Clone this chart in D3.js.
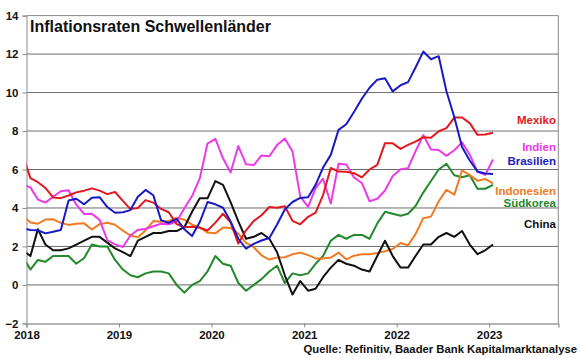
<!DOCTYPE html>
<html><head><meta charset="utf-8">
<script src="https://cdn.jsdelivr.net/npm/d3@7/dist/d3.min.js"></script>
<style>
body{margin:0;background:#fff}
svg text{font-family:"Liberation Sans",Arial,sans-serif;font-weight:bold}
</style>
</head><body>
<svg id="chart" width="580" height="359"></svg>
<script>
// Months (Dec 2017 is drawn only partly, clipped at the left axis)
const months = [
 "2017-12",
 "2018-01","2018-02","2018-03","2018-04","2018-05","2018-06","2018-07","2018-08","2018-09","2018-10","2018-11","2018-12",
 "2019-01","2019-02","2019-03","2019-04","2019-05","2019-06","2019-07","2019-08","2019-09","2019-10","2019-11","2019-12",
 "2020-01","2020-02","2020-03","2020-04","2020-05","2020-06","2020-07","2020-08","2020-09","2020-10","2020-11","2020-12",
 "2021-01","2021-02","2021-03","2021-04","2021-05","2021-06","2021-07","2021-08","2021-09","2021-10","2021-11","2021-12",
 "2022-01","2022-02","2022-03","2022-04","2022-05","2022-06","2022-07","2022-08","2022-09","2022-10","2022-11","2022-12",
 "2023-01"
];
const mexiko = [6.77,
 5.55,5.34,5.04,4.55,4.51,4.65,4.81,4.90,5.02,4.90,4.72,4.83,
 4.37,3.94,4.00,4.41,4.28,3.95,3.78,3.16,3.00,3.02,2.97,2.83,
 3.24,3.70,3.25,2.15,2.84,3.33,3.62,4.05,4.01,4.09,3.33,3.15,
 3.54,3.76,4.67,6.08,5.89,5.88,5.81,5.59,6.00,6.24,7.37,7.36,
 7.07,7.28,7.45,7.68,7.65,7.99,8.15,8.70,8.70,8.41,7.80,7.82,
 7.91];
const indien = [5.21,
 5.07,4.44,4.28,4.58,4.87,4.92,4.17,3.69,3.70,3.38,2.33,2.11,
 1.97,2.57,2.86,2.92,3.05,3.18,3.15,3.28,3.99,4.62,5.54,7.35,
 7.59,6.58,5.84,7.22,6.27,6.23,6.73,6.69,7.27,7.61,6.93,4.59,
 4.06,5.03,5.52,4.23,6.30,6.26,5.59,5.30,4.35,4.48,4.91,5.66,
 6.01,6.07,6.95,7.79,7.04,7.01,6.71,7.00,7.41,6.77,5.88,5.72,
 6.52];
const brasilien = [2.95,
 2.86,2.84,2.68,2.76,2.86,4.39,4.48,4.19,4.53,4.56,4.05,3.75,
 3.78,3.89,4.58,4.94,4.66,3.37,3.22,3.43,2.89,2.54,3.27,4.31,
 4.19,4.01,3.30,2.40,1.88,2.13,2.31,2.44,3.14,3.92,4.31,4.52,
 4.56,5.20,6.10,6.76,8.06,8.35,8.99,9.68,10.25,10.67,10.74,10.06,
 10.38,10.54,11.30,12.13,11.73,11.89,10.07,8.73,7.17,6.47,5.90,5.79,
 5.77];
const indonesien = [3.61,
 3.25,3.18,3.40,3.41,3.23,3.12,3.18,3.20,2.88,3.16,3.23,3.13,
 2.82,2.57,2.48,2.83,3.32,3.28,3.32,3.49,3.39,3.13,3.00,2.72,
 2.68,2.98,2.96,2.67,2.19,1.96,1.54,1.32,1.42,1.44,1.59,1.68,
 1.55,1.38,1.37,1.42,1.68,1.33,1.52,1.59,1.60,1.66,1.75,1.87,
 2.18,2.06,2.64,3.47,3.55,4.35,4.94,4.69,5.95,5.71,5.42,5.51,
 5.28];
const suedkorea = [1.5,
 0.8,1.3,1.2,1.5,1.5,1.5,1.1,1.4,2.1,2.0,2.0,1.3,
 0.8,0.5,0.4,0.6,0.7,0.7,0.6,0.0,-0.4,0.0,0.2,0.7,
 1.5,1.1,1.0,0.1,-0.3,0.0,0.3,0.7,1.0,0.1,0.6,0.5,
 0.6,1.1,1.5,2.3,2.6,2.4,2.6,2.6,2.4,3.2,3.8,3.7,
 3.6,3.7,4.1,4.8,5.4,6.0,6.3,5.7,5.6,5.7,5.0,5.0,
 5.2];
const china = [1.8,
 1.5,2.9,2.1,1.8,1.8,1.9,2.1,2.3,2.5,2.5,2.2,1.9,
 1.7,1.5,2.3,2.5,2.7,2.7,2.8,2.8,3.0,3.8,4.5,4.5,
 5.4,5.2,4.3,3.3,2.4,2.5,2.7,2.4,1.7,0.5,-0.5,0.2,
 -0.3,-0.2,0.4,0.9,1.3,1.1,1.0,0.8,0.7,1.5,2.3,1.5,
 0.9,0.9,1.5,2.1,2.1,2.5,2.7,2.5,2.8,2.1,1.6,1.8,
 2.1];

const seriesNames = ["Südkorea","Indonesien","China","Indien","Mexiko","Brasilien"];
const seriesValues = [suedkorea, indonesien, china, indien, mexiko, brasilien];
const seriesColors = ["#23892a","#f07a22","#111111","#ec3ae8","#e2181f","#1a1ac4"];

const labelNames = ["Mexiko","Indien","Brasilien","Indonesien","Südkorea","China"];
const labelColors = ["#e2181f","#ec3ae8","#1a1ac4","#f07a22","#23892a","#111111"];
const labelValues = [8.34, 6.96, 6.24, 4.68, 4.06, 2.96];

const xTickLabels = ["2018","2019","2020","2021","2022","2023"];
const yTicks = [-2,0,2,4,6,8,10,12,14];
const title = "Inflationsraten Schwellenländer";
const source = "Quelle: Refinitiv, Baader Bank Kapitalmarktanalyse";

const svg = d3.select("#chart");
const X0 = 26.5, X1 = 558.3, Y0 = 323.4, Y1 = 15.6;

const parse = d3.timeParse("%Y-%m");
const midMonth = s => { const d = parse(s); const n = d3.timeMonth.offset(d,1); return new Date((+d + +n)/2); };

const x = d3.scaleTime().domain([new Date(2018,0,1), new Date(2023,9,1)]).range([X0, X1]);
const y = d3.scaleLinear().domain([-2,14]).range([Y0, Y1]);

// gridlines
svg.append("g").selectAll("line").data(yTicks.filter(v => v > -2)).join("line")
  .attr("x1", X0).attr("x2", X1)
  .attr("y1", d => y(d)).attr("y2", d => y(d))
  .attr("stroke", d => d === 0 ? "#a8a8a8" : (d === 14 ? "#8a8a8a" : "#6e6e6e"))
  .attr("stroke-width", d => d === 0 ? 1.8 : 1);

// right border
svg.append("line").attr("x1", X1).attr("x2", X1).attr("y1", Y1).attr("y2", Y0)
  .attr("stroke", "#8a8a8a").attr("stroke-width", 1);

// y axis
const yAxis = svg.append("g").attr("transform", `translate(${X0},0)`)
  .call(d3.axisLeft(y).tickValues(yTicks).tickSize(4).tickPadding(4).tickFormat(d3.format("d")));
yAxis.select(".domain").attr("stroke", "#8a8a8a");
yAxis.selectAll(".tick line").attr("stroke", "#8a8a8a");
yAxis.selectAll("text").attr("font-size", 11.5).attr("fill", "#111")
  .style("font-family", "'Liberation Sans',Arial,sans-serif").style("font-weight", "bold");

// x axis
const yearDates = xTickLabels.map(s => new Date(+s, 0, 1));
const xAxis = svg.append("g").attr("transform", `translate(0,${Y0})`)
  .call(d3.axisBottom(x).tickValues(yearDates).tickSize(4).tickFormat((d,i) => xTickLabels[i]));
xAxis.select(".domain").attr("stroke", "#9a9a9a").attr("stroke-width", 1.5);
xAxis.selectAll(".tick line").attr("stroke", "#8a8a8a");
xAxis.selectAll("text").attr("font-size", 11.5).attr("fill", "#111").attr("y", 16).attr("dy", 0)
  .style("font-family", "'Liberation Sans',Arial,sans-serif").style("font-weight", "bold");

// clip
svg.append("clipPath").attr("id", "clip").append("rect")
  .attr("x", X0).attr("y", Y1 - 5).attr("width", X1 - X0).attr("height", Y0 - Y1 + 5);

const line = d3.line().x(d => x(d.date)).y(d => y(d.v));
const dates = months.map(midMonth);
svg.append("g").attr("clip-path", "url(#clip)").selectAll("path")
  .data(seriesValues).join("path")
  .attr("d", vals => line(vals.map((v,i) => ({date: dates[i], v}))))
  .attr("fill", "none")
  .attr("stroke", (d,i) => seriesColors[i])
  .attr("stroke-width", 2)
  .attr("stroke-linejoin", "round");

// series labels
svg.append("g").selectAll("text").data(labelNames).join("text")
  .attr("x", 556).attr("y", (d,i) => y(labelValues[i]))
  .attr("text-anchor", "end").attr("font-size", 11.5)
  .attr("fill", (d,i) => labelColors[i]).text(d => d);

// title
svg.append("text").attr("x", 30).attr("y", 32.3).attr("font-size", 16).attr("fill", "#111").text(title);

// source
svg.append("text").attr("x", 577).attr("y", 353).attr("text-anchor", "end")
  .attr("font-size", 11.3).attr("fill", "#111").text(source);
</script>
</body></html>
